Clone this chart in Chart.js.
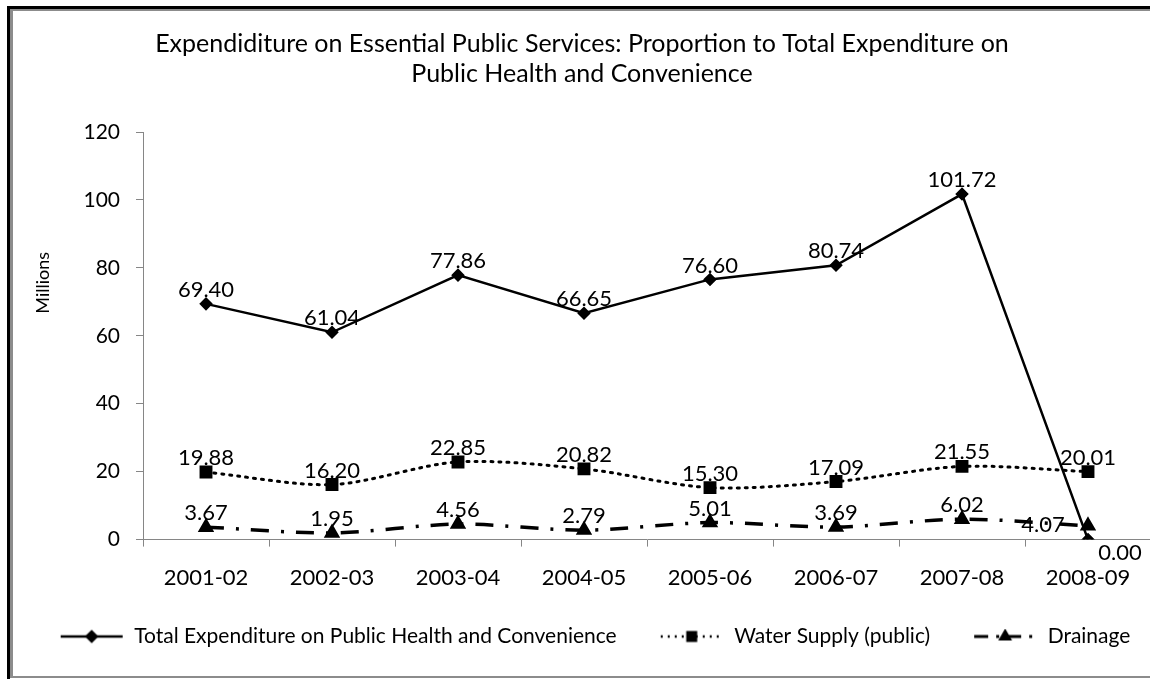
<!DOCTYPE html>
<html>
<head>
<meta charset="utf-8">
<script src="https://cdn.jsdelivr.net/npm/chart.js@4.4.0/dist/chart.umd.min.js"></script>
<style>
  body { margin: 0; background: #fff; }
  #wrap { position: relative; width: 1150px; height: 679px; overflow: hidden; background: #fff; }
  #outer { position: absolute; left: 7px; top: 6px; right: -10px; bottom: -10px; border-left: 3px solid #000; border-top: 3px solid #000; }
  #inner { position: absolute; left: 10px; top: 9px; right: -10px; height: 665px; border-left: 3px solid #8c8c8c; border-top: 2px solid #8c8c8c; border-bottom: 2px solid #8c8c8c; }
  #box { position: absolute; left: 13px; top: 11px; width: 1150px; height: 664px; }
</style>
</head>
<body>
<div id="wrap">
  <div id="outer"></div>
  <div id="inner"></div>
  <div id="box"><canvas id="chart"></canvas></div>
</div>
<script>
const years = ["2001-02", "2002-03", "2003-04", "2004-05", "2005-06", "2006-07", "2007-08", "2008-09"];
const totalExp = [69.40, 61.04, 77.86, 66.65, 76.60, 80.74, 101.72, 0.00];
const waterSupply = [19.88, 16.20, 22.85, 20.82, 15.30, 17.09, 21.55, 20.01];
const drainage = [3.67, 1.95, 4.56, 2.79, 5.01, 3.69, 6.02, 4.07];

const FONT = "Lato, 'Noto Sans', sans-serif";
const ICON_GAP = 26; // blank space left of each legend symbol

// little line + marker picture for the legend, like excel does
function legendIcon(dash, width, pointStyle, r) {
  const c = document.createElement("canvas");
  c.width = 64 + ICON_GAP;
  c.height = 16;
  const g = c.getContext("2d");
  g.translate(ICON_GAP, 0);
  g.strokeStyle = "#000";
  g.lineWidth = width;
  g.setLineDash(dash);
  g.beginPath();
  g.moveTo(1, 8);
  g.lineTo(63, 8);
  g.stroke();
  g.setLineDash([]);
  Chart.helpers.drawPoint(g, { pointStyle: pointStyle, radius: r, borderWidth: 1 }, 32, 8);
  g.fillStyle = "#000";
  g.fill();
  return c;
}

// value labels above the points, with a few moved like in the original
const labelShift = {
  "0-7": [32, 27],
  "2-7": [-45, 13],
};
const valueLabels = {
  id: "valueLabels",
  afterDatasetsDraw(chart) {
    const ctx = chart.ctx;
    ctx.save();
    ctx.font = "22px " + FONT;
    ctx.fillStyle = "#000";
    ctx.textAlign = "center";
    ctx.textBaseline = "middle";
    chart.data.datasets.forEach((ds, i) => {
      chart.getDatasetMeta(i).data.forEach((pt, j) => {
        const s = labelShift[i + "-" + j] || [0, 0];
        ctx.fillText(ds.data[j].toFixed(2), pt.x + s[0], pt.y - 14 + s[1]);
      });
    });
    ctx.restore();
  },
};

// "Millions" sits a bit above the middle of the axis in the original
const axisTitle = {
  id: "axisTitle",
  afterDraw(chart) {
    const a = chart.chartArea;
    const ctx = chart.ctx;
    ctx.save();
    ctx.translate(a.left - 100, a.top + (a.bottom - a.top) * 0.37);
    ctx.rotate(-Math.PI / 2);
    ctx.font = "18px " + FONT;
    ctx.fillStyle = "#000";
    ctx.textAlign = "center";
    ctx.textBaseline = "middle";
    ctx.fillText("Millions", 0, 0);
    ctx.restore();
  },
};

const ctx = document.getElementById("chart");
new Chart(ctx, {
  type: "line",
  data: {
    labels: years,
    datasets: [
      {
        label: "Total Expenditure on Public Health and Convenience",
        data: totalExp,
        borderColor: "#000",
        backgroundColor: "#000",
        borderWidth: 2.5,
        tension: 0,
        pointStyle: "rectRot",
        pointRadius: 5,
        pointLegend: legendIcon([], 2.5, "rectRot", 5),
      },
      {
        label: "Water Supply (public)",
        data: waterSupply,
        borderColor: "#000",
        backgroundColor: "#000",
        borderWidth: 3,
        borderDash: [2, 6],
        borderCapStyle: "round",
        tension: 0.3,
        pointStyle: "rect",
        pointRadius: 7,
        pointLegend: legendIcon([2, 5], 2.5, "rect", 6),
      },
      {
        label: "Drainage",
        data: drainage,
        borderColor: "#000",
        backgroundColor: "#000",
        borderWidth: 3.5,
        borderDash: [18, 12, 3, 12],
        tension: 0.3,
        pointStyle: "triangle",
        pointRadius: 6,
        pointLegend: legendIcon([14, 8, 3, 8], 3, "triangle", 5),
      },
    ],
  },
  options: {
    responsive: true,
    maintainAspectRatio: false,
    animation: false,
    layout: { padding: { left: 0, right: 12, top: 0, bottom: 18 } },
    plugins: {
      title: {
        display: true,
        text: [
          "Expendiditure on Essential Public Services: Proportion to Total Expenditure on",
          "Public Health and Convenience",
        ],
        color: "#000",
        font: { family: FONT, size: 25, weight: "normal", lineHeight: 1.2 },
        padding: { top: 18, bottom: 43 },
      },
      legend: {
        position: "bottom",
        labels: {
          color: "#000",
          font: { family: FONT, size: 21 },
          usePointStyle: true,
          pointStyleWidth: 64 + ICON_GAP,
          boxHeight: 16,
          padding: 17,
          generateLabels: (chart) =>
            chart.data.datasets.map((ds, i) => ({
              text: ds.label,
              pointStyle: ds.pointLegend,
              datasetIndex: i,
              fontColor: "#000",
              lineWidth: 0,
              strokeStyle: "#000",
            })),
        },
      },
      tooltip: { enabled: false },
    },
    scales: {
      x: {
        offset: true,
        grid: { offset: true, drawOnChartArea: false, color: "#868686", tickLength: 7 },
        border: { color: "#868686" },
        ticks: { color: "#000", padding: 18, maxRotation: 0, font: { family: FONT, size: 22 } },
      },
      y: {
        min: 0,
        max: 120,
        afterFit: (scale) => { scale.width = 130; },
        grid: { drawOnChartArea: false, color: "#868686", tickLength: 7 },
        border: { color: "#868686" },
        ticks: { stepSize: 20, color: "#000", padding: 16, font: { family: FONT, size: 21 } },
      },
    },
  },
  plugins: [valueLabels, axisTitle],
});
</script>
</body>
</html>
